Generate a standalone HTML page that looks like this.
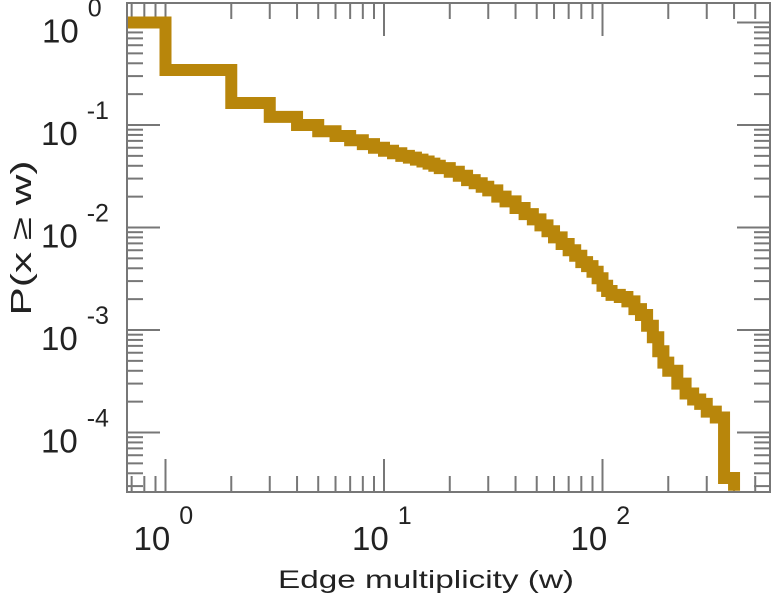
<!DOCTYPE html>
<html><head><meta charset="utf-8"><style>
body{margin:0;background:#fff;}
svg text{font-family:"Liberation Sans",sans-serif;fill:#222;}
</style></head><body>
<svg id="chart" width="773" height="600" viewBox="0 0 773 600" xmlns="http://www.w3.org/2000/svg">
<g id="ticks"></g>
<path id="series" fill="none" stroke="#b8860b" stroke-width="12" stroke-linejoin="miter" stroke-linecap="butt"/>
<rect x="127" y="3" width="643" height="489" fill="none" stroke="#777" stroke-width="2"/>
<g id="labels"></g>
<text x="426" y="588" font-size="25" text-anchor="middle" textLength="296" lengthAdjust="spacingAndGlyphs">Edge multiplicity (w)</text>
<text transform="translate(31,238) rotate(-90)" font-size="29" text-anchor="middle" textLength="155" lengthAdjust="spacingAndGlyphs">P(x ≥ w)</text>
</svg>
<script>
const wValues=[1,2,3,4,5,6,7,8,9,10,11,12,13,14,15,16,17,18,20,22,24,26,28,30,33,36,40,44,48,52,56,60,65,70,75,80,85,90,95,100,105,110,120,130,140,150,160,170,180,190,200,220,240,260,280,300,330,360,400];
const pValues=[1,0.344,0.164,0.12,0.1,0.087,0.078,0.071,0.065,0.06,0.056,0.053,0.05,0.048,0.046,0.044,0.042,0.04,0.038,0.035,0.032,0.029,0.027,0.025,0.023,0.02,0.018,0.0155,0.0135,0.012,0.0105,0.0092,0.008,0.0069,0.006,0.0053,0.0046,0.0042,0.0037,0.0032,0.0027,0.0024,0.0022,0.0021,0.0019,0.0016,0.0014,0.0011,0.00085,0.00062,0.00048,0.0004,0.0003,0.00024,0.00021,0.00019,0.00016,0.00014,0.000036,0.000027];
const xTickExps=[0,1,2];
const yTickExps=[0,-1,-2,-3,-4];
const L=127,R=770,T=3,B=492;
function xs(w){return 165.5+218.5*Math.log10(w);}
function ys(p){return 22.5-102.5*Math.log10(p);}
const NS="http://www.w3.org/2000/svg";
function yc(p){return Math.min(ys(p),B);}
let d="M"+L+","+yc(pValues[0]);
for(let i=0;i<wValues.length;i++){
  const x=xs(wValues[i]);
  d+=" L"+x+","+yc(pValues[i])+" L"+x+","+yc(pValues[i+1]);
}
document.getElementById('series').setAttribute('d',d);
const tg=document.getElementById('ticks');
function line(x1,y1,x2,y2,nm){
  const l=document.createElementNS(NS,'line');
  l.setAttribute('x1',x1);l.setAttribute('y1',y1);l.setAttribute('x2',x2);l.setAttribute('y2',y2);
  l.setAttribute('stroke','#777');l.setAttribute('stroke-width','2');
  
  
  tg.appendChild(l);
}
for(let e=-1;e<=2;e++){for(let m=1;m<10;m++){
  const x=xs(m*Math.pow(10,e)); if(x<L||x>R) continue;
  const len=(m===1)?33:16;
  line(x,B,x,B-len,'x-tick');line(x,T,x,T+len,'x-tick-top');
}}
for(let e=-5;e<=0;e++){for(let m=1;m<10;m++){
  const y=ys(m*Math.pow(10,e)); if(y<T||y>B) continue;
  const len=(m===1)?33:16;
  line(L,y,L+len,y,'y-tick');line(R,y,R-len,y,'y-tick-right');
}}
const lg=document.getElementById('labels');
function lab(x,y,exp,nm){
  const t=document.createElementNS(NS,'text');
  t.setAttribute('x',x);t.setAttribute('y',y);t.setAttribute('font-size','33');
  
  
  t.textContent='10';
  const s=document.createElementNS(NS,'tspan');
  s.setAttribute('dx','9');s.setAttribute('dy','-26');s.setAttribute('font-size','25');
  s.textContent=String(exp);
  t.appendChild(s);lg.appendChild(t);
}
xTickExps.forEach(e=>lab(xs(Math.pow(10,e))-32,550,e,'x-tick-label'));
yTickExps.forEach(e=>lab(e===0?42:41,ys(Math.pow(10,e))+20,e,'y-tick-label'));
</script>
</body></html>
